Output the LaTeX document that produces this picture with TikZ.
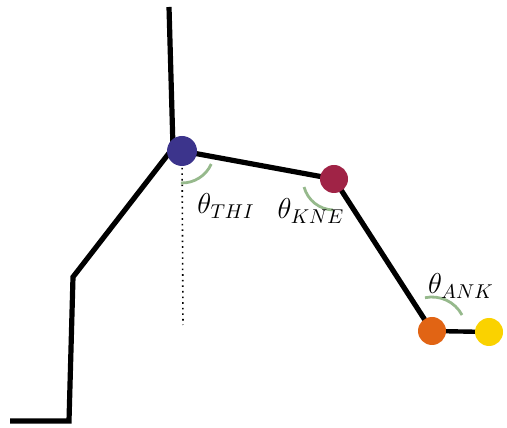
\documentclass[tikz,border=0pt]{standalone}
\usepackage{amsmath}
\usepackage{tikz}
\usetikzlibrary{arrows,shapes,positioning}
\definecolor{hipblue}{RGB}{60,52,140}
\definecolor{kneered}{RGB}{160,35,70}
\definecolor{ankorange}{RGB}{225,100,20}
\definecolor{toeyellow}{RGB}{250,210,0}
\definecolor{anglegreen}{RGB}{150,185,140}
\begin{document}
\begin{tikzpicture}[x=0.5pt,y=0.5pt]
                    \tikzstyle{every node}+=[inner sep=0pt]
                    \tikzstyle{joint}=[circle, minimum size=14pt]
                    \tikzstyle{limb}=[black, line width=2.6pt]
                    \tikzstyle{angarc}=[anglegreen, line width=1.4pt]
                    \useasboundingbox (0,0) rectangle (507,427);
                    \coordinate (top) at (169,420);
                    \coordinate (pelvis) at (173,279);
                    \coordinate (back) at (73,150);
                    \coordinate (seat) at (69,6);
                    \coordinate (floor) at (10,6);
                    \coordinate (hipc) at (182,276);
                    \coordinate (kneec) at (334,248);
                    \coordinate (anklec) at (432,96);
                    \coordinate (toec) at (489,95);
                    \coordinate (dotend) at (183,102);
                    \draw [limb] (top) -- (pelvis) -- (back) -- (seat) -- (floor);
                    \draw [black, dotted, line width=0.8pt] (hipc) -- (dotend);
                    \draw [limb] (hipc) -- (kneec) -- (anklec);
                    \draw [black, line width=2.2pt] (anklec) -- (toec);
                    \node [joint, fill=hipblue, minimum size=15pt] (hip) at (hipc) {};
                    \node [joint, fill=kneered] (knee) at (kneec) {};
                    \node [joint, fill=ankorange] (ankle) at (anklec) {};
                    \node [joint, fill=toeyellow] (toe) at (toec) {};
                    \draw [angarc] ([shift={(268:32)}]hip.center) arc (268:336:32);
                    \draw [angarc] ([shift={(195:31)}]knee.center) arc (195:268:31);
                    \draw [angarc] ([shift={(28:34)}]ankle.center) arc (28:102:34);
                    \node (thi) at (226,221) {\Large $\theta_{THI}$};
                    \node (kne) at (311,216) {\Large $\theta_{KNE}$};
                    \node (ank) at (461,141) {\Large $\theta_{ANK}$};
                \end{tikzpicture}
\end{document}
